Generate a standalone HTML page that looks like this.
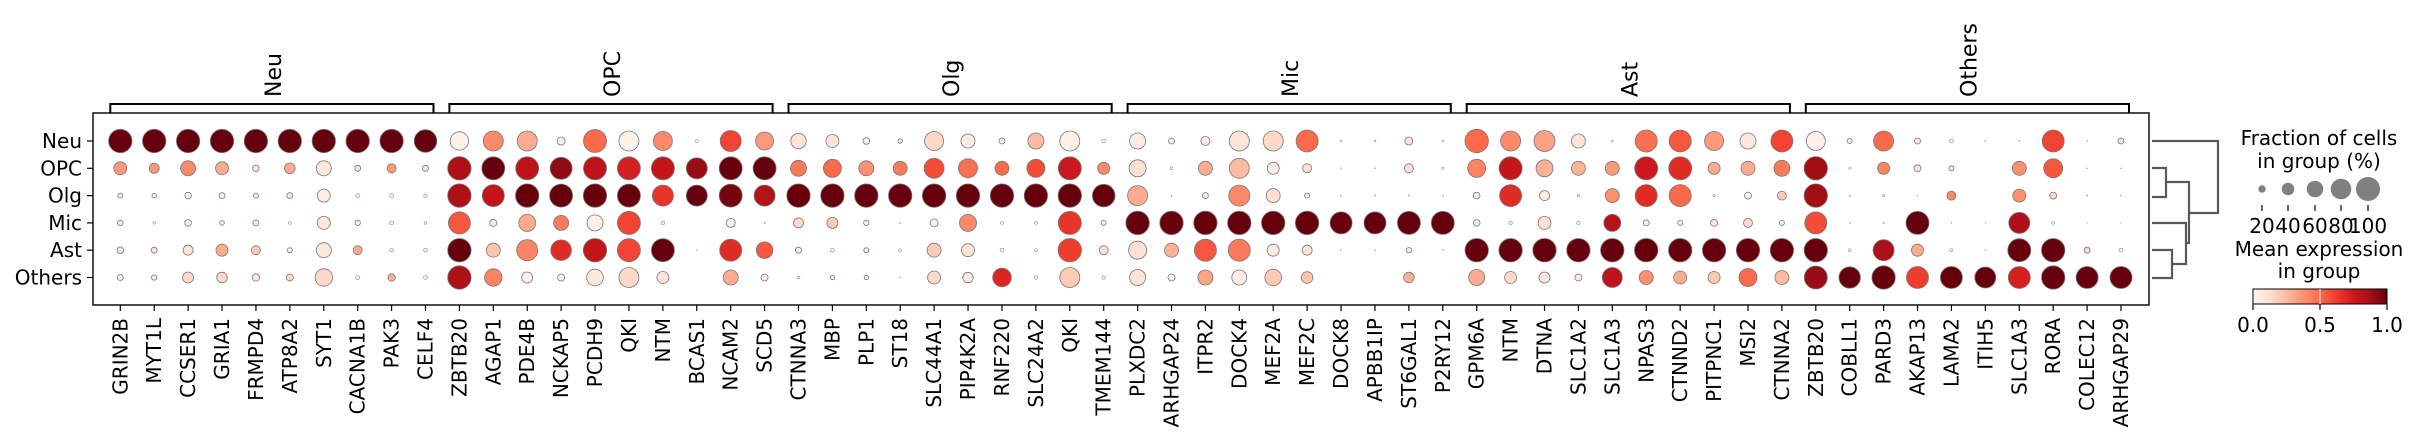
<!DOCTYPE html>
<html><head><meta charset="utf-8"><style>
html,body{margin:0;padding:0;background:#fff;}
svg{display:block;font-family:"DejaVu Sans","Liberation Sans",sans-serif;}
</style></head><body>
<svg id="s" width="2419" height="442" viewBox="0 0 2419 442" xmlns="http://www.w3.org/2000/svg"></svg>
<script>
const S=document.getElementById('s');
const stops=['#fff5f0','#fee0d2','#fcbba1','#fc9272','#fb6a4a','#ef3b2c','#cb181d','#a50f15','#67000d'];
function h2r(h){return [1,3,5].map(i=>parseInt(h.substr(i,2),16));}
function col(v){v=Math.max(0,Math.min(1,v));const t=v*8;const i=Math.min(7,Math.floor(t));const f=t-i;const a=h2r(stops[i]),b=h2r(stops[i+1]);return 'rgb('+a.map((x,k)=>Math.round(x+(b[k]-x)*f)).join(',')+')';}
const F=(a,n)=>{let r=[];for(let i=0;i<n;i++)r.push(...a);return r;};
const rows={
Neu:[...F([11.7,1],9),11.3,1, 9.2,.02,10,.4,10,.3,4,.02,11.5,.5,10,.02,9.5,.4,1.5,0,10.5,.6,9,.35,
7.7,.1,6.5,.1,3.3,.02,2.2,.02,9.5,.15,7,.05,3,.02,8,.25,10,.03,2,0,
8,.05,3,.05,4.5,.05,10,.1,10,.15,11,.5,1,0,1,0,4,.1,1,0,
11.7,.5,10,.4,10.5,.33,7,.1,1,0,11,.48,11,.55,9.5,.35,8,.08,11,.6,
9.5,.03,2.5,.05,10,.5,3,.1,2,.05,.6,0,.6,0,11,.6,.5,0,3,.1],
OPC:[6.5,.35,5,.35,7.5,.4,6.5,.3,3.3,.1,5.3,.3,7.5,.08,3,.1,4.5,.35,3,.1,
11.7,.85,11.5,1,11.5,.8,11,.92,11.5,.8,11.5,.72,11.5,.78,10.5,.9,11.5,1,11.5,1,
8,.45,9,.5,7.5,.38,7,.45,10,.58,9.5,.48,7,.5,9,.58,11.5,.75,6,.4,
8.5,.12,1.5,.05,7,.3,10,.25,6,.05,4.5,.12,.6,0,.6,0,4.5,.12,1.2,.05,
9,.42,11.5,.78,8.5,.28,7,.27,7,.35,11.5,.75,11.5,.68,6,.3,7,.3,8,.45,
11.7,.88,1,.05,6,.42,3.5,.1,2.5,.05,0,0,7,.38,9.5,.55,.5,0,.5,0],
Olg:[2.5,.05,2.3,.05,3.3,.05,3,.05,2.5,.05,3,.1,6.5,.05,2,.05,2,.05,1.8,.05,
11.7,.85,11,.78,11.7,1,11.5,1,11.7,1,11.5,1,10.5,.65,10.5,1,11.5,.97,10.5,.82,
...F([11.7,1],9),11.3,1,
10,.3,.6,0,3,.05,10.5,.4,7,.12,2.5,.05,.6,0,.6,0,.6,0,.6,0,
3.3,.05,11,.68,5,.05,1.3,.05,7,.38,11,.68,11,.5,1.2,.05,3.5,.05,4.5,.2,
11.7,.88,.7,0,1.2,.05,.5,0,4.5,.4,0,0,6.5,.38,3.5,.15,.7,0,.5,0],
Mic:[2.7,.05,1.3,.05,3.3,.05,2.3,.05,3,.1,1.5,.05,6.5,.08,2.7,.05,2,.05,1.5,.05,
11,.55,3.5,.05,8.5,.3,7.5,.45,8,.03,11.5,.6,2,.05,0,0,4.5,.05,.8,0,
5,.15,5.5,.2,2.7,.05,.6,0,4,.05,8.5,.4,1.5,.05,1.5,.05,11.5,.65,2.5,.05,
...F([11.7,1],6),11,1,11,1,11.5,1,11.5,1,
3.3,.05,1.8,.05,6.5,.12,1.8,.05,8.5,.82,3,.05,2.5,.05,3.5,.1,4.5,.15,2.5,.05,
11,.58,.5,0,.8,0,11.5,1,.5,0,.4,0,10.5,.85,1.5,.05,.4,0,.4,0],
Ast:[3.3,.1,3,.1,5,.1,6,.3,4.5,.2,2.5,.05,7.5,.08,4.5,.3,1.8,.05,2,.05,
11.7,1,7,.22,10.5,.42,10.3,.68,11.7,.78,11.5,.6,11.5,1,.5,0,11,.68,8.3,.55,
3,.05,2,.05,2.5,.05,1.5,.05,7,.2,6.5,.1,2,.05,1.5,.05,11.7,.62,4.5,.12,
9,.12,7,.28,11,.55,11,.45,6,.05,5,.1,.5,0,.5,0,2.7,.05,.6,0,
...F([11.7,1],10),
11.7,1,1.5,.05,10.5,.85,6,.3,1.5,.05,.5,0,11.5,1,11.7,1,3,.15,2,.05],
Others:[3,.05,2.7,.05,5.5,.15,5.3,.15,3.7,.08,3.5,.15,8.7,.15,2,.05,3.7,.28,2,.05,
11.7,.85,8.7,.42,5.5,.03,3.5,.03,8.3,.08,10,.15,6,.1,0,0,7.5,.3,3.5,.05,
1.5,.05,2.2,.05,2.2,.05,.5,0,6.5,.15,5.2,.05,9.3,.7,1.8,.05,10,.2,1.8,.05,
8,.1,3.5,.05,7.5,.32,7.5,.05,8.3,.2,5.8,.22,0,0,0,0,5.3,.28,0,0,
8,.3,6,.15,5.5,.08,3.5,.05,10,.8,7,.38,6.5,.3,6,.2,9,.5,7,.25,
11.5,.9,10.7,1,11.7,1,11,.62,11,1,10.5,1,11,.72,11.7,1,11,1,11,1]
};
const genes=['GRIN2B','MYT1L','CCSER1','GRIA1','FRMPD4','ATP8A2','SYT1','CACNA1B','PAK3','CELF4',
'ZBTB20','AGAP1','PDE4B','NCKAP5','PCDH9','QKI','NTM','BCAS1','NCAM2','SCD5',
'CTNNA3','MBP','PLP1','ST18','SLC44A1','PIP4K2A','RNF220','SLC24A2','QKI','TMEM144',
'PLXDC2','ARHGAP24','ITPR2','DOCK4','MEF2A','MEF2C','DOCK8','APBB1IP','ST6GAL1','P2RY12',
'GPM6A','NTM','DTNA','SLC1A2','SLC1A3','NPAS3','CTNND2','PITPNC1','MSI2','CTNNA2',
'ZBTB20','COBLL1','PARD3','AKAP13','LAMA2','ITIH5','SLC1A3','RORA','COLEC12','ARHGAP29'];
const groups=['Neu','OPC','Olg','Mic','Ast','Others'];
const rowY=[141,168.3,195.6,222.9,250.2,277.5];
const X=i=>120.3+i*33.91;
let o='';
o+='<rect x="93" y="113" width="2056" height="192" fill="none" stroke="#000" stroke-width="1.4"/>';
Object.keys(rows).forEach((k,ri)=>{const d=rows[k];const y=rowY[ri];
 o+=`<line x1="87" y1="${y}" x2="93" y2="${y}" stroke="#000" stroke-width="1.2"/>`;
 o+=`<text x="82" y="${y+7}" font-size="20" text-anchor="end">${k}</text>`;
 for(let i=0;i<60;i++){const r=d[2*i],v=d[2*i+1];if(r<=0)continue;
  o+=`<circle cx="${X(i).toFixed(1)}" cy="${y}" r="${r}" fill="${col(v)}" stroke="#777" stroke-width="${r>2?0.8:0.5}"/>`;}
});
genes.forEach((g,i)=>{const x=X(i);
 o+=`<line x1="${x}" y1="305" x2="${x}" y2="311" stroke="#000" stroke-width="1.2"/>`;
 o+=`<text transform="translate(${x+7},318) rotate(-90)" font-size="20" text-anchor="end">${g}</text>`;});
groups.forEach((g,k)=>{const a=X(k*10)-10,b=X(k*10+9)+8,c=(X(k*10)+X(k*10+9))/2;
 o+=`<polyline points="${a},113 ${a},104 ${b},104 ${b},113" fill="none" stroke="#000" stroke-width="2"/>`;
 o+=`<text transform="translate(${c+8},97) rotate(-90)" font-size="22">${g}</text>`;});
// dendrogram
const dg='stroke="#595959" stroke-width="2.2" fill="none"';
o+=`<polyline points="2152,141 2218,141 2218,213 2189,213" ${dg}/>`;
o+=`<polyline points="2152,168 2166,168 2166,197 2152,197" ${dg}/>`;
o+=`<polyline points="2166,182 2189,182 2189,243 2186,243" ${dg}/>`;
o+=`<polyline points="2152,223 2186,223 2186,264 2172,264" ${dg}/>`;
o+=`<polyline points="2152,250 2172,250 2172,278 2152,278" ${dg}/>`;
// legend
o+='<text x="2319" y="145" font-size="20" text-anchor="middle">Fraction of cells</text>';
o+='<text x="2319" y="168" font-size="20" text-anchor="middle">in group (%)</text>';
[[2262,3.7,'20'],[2288,6.3,'40'],[2315,8.3,'60'],[2341,10.3,'80'],[2368,12,'100']].forEach(([x,r,t])=>{
 o+=`<circle cx="${x}" cy="189" r="${r}" fill="#808080"/>`;
 o+=`<line x1="${x}" y1="205" x2="${x}" y2="211" stroke="#000" stroke-width="1.2"/>`;
 o+=`<text x="${x}" y="233" font-size="20" text-anchor="middle">${t}</text>`;});
o+='<text x="2319" y="256" font-size="20" text-anchor="middle">Mean expression</text>';
o+='<text x="2319" y="278" font-size="20" text-anchor="middle">in group</text>';
o+='<defs><linearGradient id="cg" x1="0" x2="1" y1="0" y2="0">'+stops.map((c,i)=>`<stop offset="${i/8}" stop-color="${c}"/>`).join('')+'</linearGradient></defs>';
o+='<rect x="2253" y="289" width="134" height="15" fill="url(#cg)" stroke="#000" stroke-width="1"/>';
o+='<line x1="2320" y1="289" x2="2320" y2="304" stroke="#ddd" stroke-width="1.2"/>';
[[2253,'0.0'],[2320,'0.5'],[2387,'1.0']].forEach(([x,t])=>{
 o+=`<line x1="${x}" y1="304" x2="${x}" y2="310" stroke="#000" stroke-width="1.2"/>`;
 o+=`<text x="${x}" y="332" font-size="20" text-anchor="middle">${t}</text>`;});
S.innerHTML=o;
</script>
</body></html>
